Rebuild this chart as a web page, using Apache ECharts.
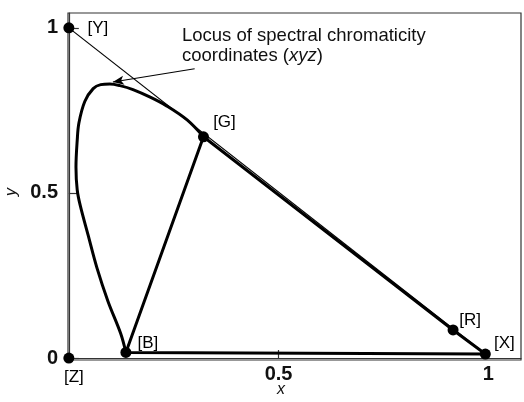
<!DOCTYPE html>
<html>
<head>
<meta charset="utf-8">
<script src="https://cdn.jsdelivr.net/npm/echarts@6/dist/echarts.min.js"></script>
<style>
  html, body { margin: 0; padding: 0; background: #fff; }
  #chart { width: 524px; height: 402px; }
</style>
</head>
<body>
<div id="chart"></div>
<script>
// Axis tick positions
const xTicks = [0.5, 1];
const yTicks = [0, 0.5, 1];

// Primaries of the xyz chromaticity diagram
const pointNames = ['[Y]', '[G]', '[R]', '[X]', '[B]', '[Z]'];
const pointX = [0, 0.321, 0.916, 0.993, 0.136, 0];
const pointY = [1, 0.670, 0.085, 0.012, 0.017, 0];

// Spectral locus, from the short-wavelength end [B] up to [G]
const locusX = [0.136, 0.124, 0.093, 0.067, 0.046, 0.027, 0.020, 0.017, 0.020, 0.024,
                0.038, 0.058, 0.076, 0.098, 0.122, 0.153, 0.194, 0.234, 0.282, 0.321];
const locusY = [0.017, 0.073, 0.173, 0.273, 0.372, 0.463, 0.509, 0.578, 0.660, 0.712,
                0.777, 0.816, 0.828, 0.830, 0.825, 0.813, 0.790, 0.763, 0.721, 0.670];

const pt = name => {
  const i = pointNames.indexOf(name);
  return [pointX[i], pointY[i]];
};

// label placement around each point (dx, dy in px)
const labelOffsets = {
  '[Y]': [29, 0], '[G]': [21, -14], '[R]': [17, -10],
  '[X]': [19, -11], '[B]': [22, -9], '[Z]': [5, 19]
};

const chart = echarts.init(document.getElementById('chart'));

const font = '"Liberation Sans", Arial, Helvetica, sans-serif';

chart.setOption({
  animation: false,
  backgroundColor: '#fff',
  grid: {
    left: 68, top: 13, width: 453, height: 347,
    show: true, borderColor: '#333', borderWidth: 1.2,
    containLabel: false, outerBoundsMode: 'none'
  },
  xAxis: {
    type: 'value', min: -0.002, max: 1.078,
    axisLine: { show: true, lineStyle: { color: '#333', width: 1.2 } },
    axisTick: { show: true, inside: true, length: 8, customValues: xTicks, lineStyle: { color: '#333', width: 1.2 } },
    axisLabel: {
      customValues: xTicks, margin: 4,
      fontFamily: font, fontWeight: 'bold', fontSize: 20, color: '#111',
      formatter: v => String(v)
    },
    splitLine: { show: false }
  },
  yAxis: {
    type: 'value', min: -0.006, max: 1.045,
    axisLine: { show: true, lineStyle: { color: '#333', width: 1.2 } },
    axisTick: { show: true, inside: true, length: 10, customValues: yTicks, lineStyle: { color: '#333', width: 1.2 } },
    axisLabel: {
      customValues: yTicks, margin: 10,
      fontFamily: font, fontWeight: 'bold', fontSize: 20, color: '#111',
      formatter: v => String(v)
    },
    splitLine: { show: false }
  },
  graphic: [
    {
      // x axis title
      type: 'text', x: 281, y: 390,
      style: {
        text: 'x', fontFamily: font, fontStyle: 'italic', fontSize: 16, fill: '#111',
        align: 'center', verticalAlign: 'middle'
      }
    },
    {
      // y axis title
      type: 'text', x: 12, y: 192, rotation: Math.PI / 2,
      style: {
        text: 'y', fontFamily: font, fontStyle: 'italic', fontSize: 16, fill: '#111',
        align: 'center', verticalAlign: 'middle'
      }
    },
    {
      type: 'text', left: 182, top: 26,
      style: {
        text: 'Locus of spectral chromaticity\n{n|coordinates (}{i|xyz}{n|)}',
        fontFamily: font, fontSize: 18.5, fill: '#111', lineHeight: 20,
        rich: {
          n: { fontFamily: font, fontSize: 18.5, fill: '#111' },
          i: { fontFamily: font, fontSize: 18.5, fontStyle: 'italic', fill: '#111' }
        }
      }
    }
  ],
  series: [
    {
      // thin reference line from [Y] to [X]
      type: 'line', data: [pt('[Y]'), pt('[X]')],
      symbol: 'none', lineStyle: { color: '#000', width: 1.2 }, z: 2,
      markLine: {
        silent: true, symbol: ['none', 'arrow'], symbolSize: [7, 11],
        lineStyle: { color: '#000', width: 1.1, type: 'solid' },
        label: { show: false },
        data: [[{ coord: [0.300, 0.876] }, { coord: [0.105, 0.836] }]]
      }
    },
    {
      // spectral locus
      type: 'line', data: locusX.map((x, i) => [x, locusY[i]]),
      smooth: 0.35, symbol: 'none', lineStyle: { color: '#000', width: 3 }, z: 3
    },
    {
      // gamut outline B-G-R-X-B
      type: 'line', data: [pt('[B]'), pt('[G]'), pt('[R]'), pt('[X]'), pt('[B]')],
      symbol: 'none', lineStyle: { color: '#000', width: 3 }, z: 3
    },
    {
      type: 'scatter', symbol: 'circle', symbolSize: 11, z: 5,
      itemStyle: { color: '#000', opacity: 1 },
      data: pointNames.map((n, i) => ({
        name: n, value: [pointX[i], pointY[i]],
        label: {
          show: true, position: 'inside', offset: labelOffsets[n],
          formatter: '{b}', fontFamily: font, fontSize: 17, color: '#000'
        }
      }))
    }
  ]
});
</script>
</body>
</html>
